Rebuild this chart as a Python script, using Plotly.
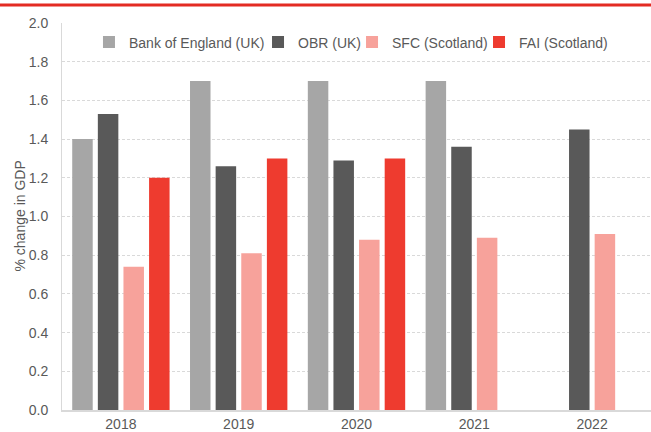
import plotly.graph_objects as go

years = ["2018", "2019", "2020", "2021", "2022"]
boe = [1.4, 1.7, 1.7, 1.7, None]
obr = [1.53, 1.26, 1.29, 1.36, 1.45]
sfc = [0.74, 0.81, 0.88, 0.89, 0.91]
fai = [1.2, 1.3, 1.3, None, None]

series = [
    ("Bank of England (UK)", boe, "#A6A6A6", "legend", 0.0458),
    ("OBR (UK)", obr, "#595959", "legend2", 0.3328),
    ("SFC (Scotland)", sfc, "#F7A29B", "legend3", 0.4924),
    ("FAI (Scotland)", fai, "#EE3B2F", "legend4", 0.7080),
]

fig = go.Figure()
font = "Liberation Sans, Arial, sans-serif"
legends = {}
for name, vals, col, lg, lx in series:
    fig.add_trace(go.Bar(x=years, y=vals, name=name, legend=lg,
                         marker=dict(color=col, line=dict(width=0))))
    legends[lg] = dict(orientation="h", x=lx, y=0.991, xanchor="left", yanchor="top",
                       bgcolor="rgba(0,0,0,0)", font=dict(family=font, size=14, color="#595959"),
                       itemwidth=30)

fig.update_layout(
    width=651, height=432,
    margin=dict(l=62, r=0, t=23, b=22),
    paper_bgcolor="white", plot_bgcolor="white",
    barmode="group", bargap=0.13, bargroupgap=0.2,
    font=dict(family=font, size=14, color="#595959"),
    showlegend=True,
    shapes=[dict(type="line", xref="paper", yref="paper", x0=-0.2, x1=1.1,
                 y0=1.0465, y1=1.0465, line=dict(color="#E32B23", width=3))],
    annotations=[dict(text="% change in GDP", xref="paper", yref="paper",
                      x=-0.073, y=0.5, xanchor="center", yanchor="middle",
                      textangle=-90, showarrow=False,
                      font=dict(family=font, size=14, color="#595959"))],
    **legends,
)
fig.update_yaxes(range=[0, 2.0], dtick=0.2, tickformat=".1f", automargin=False,
                 showgrid=True, gridcolor="#D9D9D9", griddash="3px,2px", gridwidth=1,
                 showline=True, linecolor="#D9D9D9", linewidth=1, zeroline=False,
                 ticks="", ticklabelstandoff=10,
                 tickfont=dict(size=14, color="#595959"))
fig.update_xaxes(showline=True, linecolor="#D9D9D9", linewidth=1.5, ticks="",
                 ticklabelstandoff=0, automargin=False,
                 tickfont=dict(size=14, color="#595959"))
fig.write_html("out.html", post_script="document.body.style.margin='0';",
               config={"displayModeBar": False})
